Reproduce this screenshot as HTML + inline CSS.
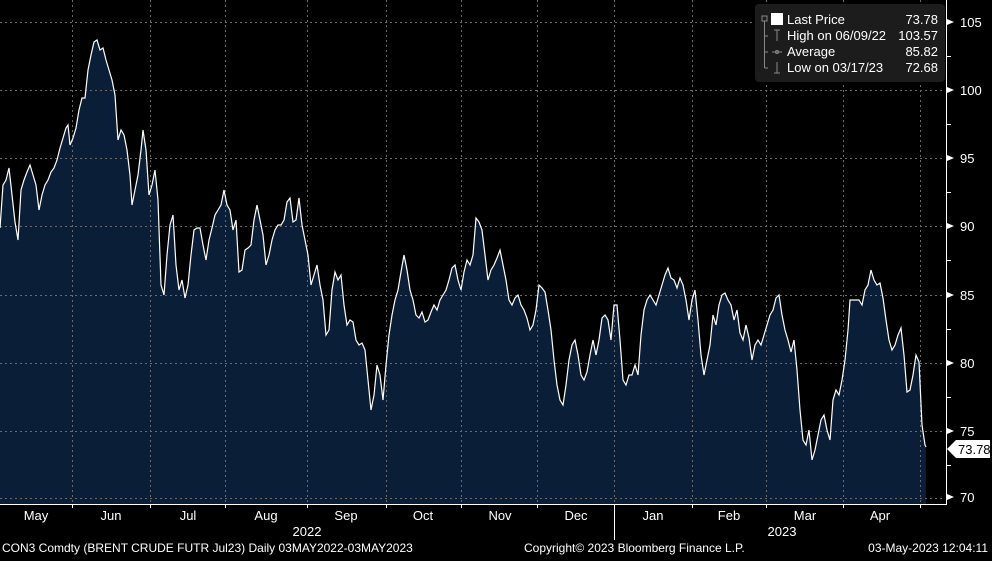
<!DOCTYPE html>
<html><head><meta charset="utf-8"><style>
html,body{margin:0;padding:0;background:#000;}
body{width:992px;height:556px;overflow:hidden;font-family:"Liberation Sans",sans-serif;}
svg text{font-family:"Liberation Sans",sans-serif;fill:#fff;}
</style></head><body>
<svg width="992" height="556" viewBox="0 0 992 556" xmlns="http://www.w3.org/2000/svg">
<rect width="992" height="556" fill="#000"/>
<polygon fill="#0b1e38" points="0,504 0,228 3,185 6,180 9,168 12,195 15,222 18,240 21,190 24,180 27,172 30,165 33,175 36,185 39,210 42,195 45,185 48,180 51,172 54,168 57,160 60,148 63,138 66,128 68,125 70,145 73,138 76,128 79,110 82,98 85,98 88,70 91,55 94,42 97,40 100,50 103,48 106,60 109,70 112,80 115,95 118,140 121,130 124,135 127,150 130,175 132,205 135,190 138,175 141,150 143,130 146,150 149,195 152,185 155,170 158,200 161,285 164,295 167,255 170,225 173,215 176,265 179,290 182,280 185,298 188,285 191,255 194,230 197,228 200,228 203,245 206,260 209,240 212,228 215,215 218,210 221,205 224,190 227,205 230,210 233,230 236,220 239,272 242,270 245,250 248,248 251,245 254,220 257,205 260,220 263,235 266,265 269,255 272,240 275,230 278,225 281,225 284,220 287,202 290,198 293,222 296,220 299,198 302,225 305,240 308,255 311,285 314,275 317,265 320,285 323,300 326,335 329,330 332,290 335,272 338,280 341,275 344,305 347,325 350,320 353,322 356,340 359,345 362,343 365,350 368,380 371,410 374,395 377,365 380,375 383,400 386,365 389,335 392,315 395,300 398,290 401,272 404,255 407,270 410,290 413,300 416,315 419,318 422,312 425,322 428,320 431,312 434,305 437,310 440,300 443,295 446,290 449,280 452,268 455,265 458,280 461,290 464,272 467,260 470,265 473,255 476,218 479,222 482,230 485,255 488,280 491,270 494,265 497,258 500,250 503,265 506,280 509,300 512,305 515,298 518,295 521,305 524,310 527,318 530,330 533,325 536,310 539,285 542,288 545,292 548,310 551,330 554,360 557,385 560,400 563,405 566,385 569,360 572,345 575,340 578,355 581,375 584,380 587,372 590,355 593,340 596,355 599,340 602,318 605,315 608,320 611,340 614,305 617,305 620,340 623,380 626,385 629,375 632,375 635,365 638,375 641,335 644,310 647,300 650,295 653,300 656,305 659,295 662,285 665,275 668,268 671,278 674,280 677,288 680,278 683,285 686,300 689,320 692,300 695,290 698,320 701,355 704,375 707,360 710,345 713,315 716,325 719,305 722,295 725,293 728,300 731,305 734,320 737,310 740,333 743,340 746,325 749,338 752,360 755,345 758,340 761,345 764,335 767,325 770,315 773,310 776,298 779,295 782,315 785,330 788,340 791,352 794,340 797,370 800,410 803,440 806,445 809,430 812,460 815,450 818,435 821,420 824,415 827,430 830,440 833,400 836,390 839,395 842,380 845,360 848,330 850,300 853,300 856,300 859,300 862,305 865,290 868,285 871,270 874,280 877,285 880,283 883,298 886,320 889,340 892,350 895,345 898,335 901,328 904,355 907,392 910,390 913,375 916,355 919,362 922,425 925,445 926,447 926,504"/>
<g stroke="#6a6a6a" stroke-width="1" stroke-dasharray="2,3">
<line x1="0" y1="22.5" x2="945" y2="22.5"/><line x1="0" y1="90.5" x2="945" y2="90.5"/><line x1="0" y1="158.5" x2="945" y2="158.5"/><line x1="0" y1="226.5" x2="945" y2="226.5"/><line x1="0" y1="295.5" x2="945" y2="295.5"/><line x1="0" y1="363.5" x2="945" y2="363.5"/><line x1="0" y1="431.5" x2="945" y2="431.5"/><line x1="0" y1="498.5" x2="945" y2="498.5"/>
<line x1="72.5" y1="0" x2="72.5" y2="504"/><line x1="150.5" y1="0" x2="150.5" y2="504"/><line x1="225.5" y1="0" x2="225.5" y2="504"/><line x1="307.5" y1="0" x2="307.5" y2="504"/><line x1="386.5" y1="0" x2="386.5" y2="504"/><line x1="461.5" y1="0" x2="461.5" y2="504"/><line x1="537.5" y1="0" x2="537.5" y2="504"/><line x1="614.5" y1="0" x2="614.5" y2="504"/><line x1="692.5" y1="0" x2="692.5" y2="504"/><line x1="766.5" y1="0" x2="766.5" y2="504"/><line x1="843.5" y1="0" x2="843.5" y2="504"/><line x1="920.5" y1="0" x2="920.5" y2="504"/>
</g>
<polyline fill="none" stroke="#fff" stroke-width="1.2" points="0,228 3,185 6,180 9,168 12,195 15,222 18,240 21,190 24,180 27,172 30,165 33,175 36,185 39,210 42,195 45,185 48,180 51,172 54,168 57,160 60,148 63,138 66,128 68,125 70,145 73,138 76,128 79,110 82,98 85,98 88,70 91,55 94,42 97,40 100,50 103,48 106,60 109,70 112,80 115,95 118,140 121,130 124,135 127,150 130,175 132,205 135,190 138,175 141,150 143,130 146,150 149,195 152,185 155,170 158,200 161,285 164,295 167,255 170,225 173,215 176,265 179,290 182,280 185,298 188,285 191,255 194,230 197,228 200,228 203,245 206,260 209,240 212,228 215,215 218,210 221,205 224,190 227,205 230,210 233,230 236,220 239,272 242,270 245,250 248,248 251,245 254,220 257,205 260,220 263,235 266,265 269,255 272,240 275,230 278,225 281,225 284,220 287,202 290,198 293,222 296,220 299,198 302,225 305,240 308,255 311,285 314,275 317,265 320,285 323,300 326,335 329,330 332,290 335,272 338,280 341,275 344,305 347,325 350,320 353,322 356,340 359,345 362,343 365,350 368,380 371,410 374,395 377,365 380,375 383,400 386,365 389,335 392,315 395,300 398,290 401,272 404,255 407,270 410,290 413,300 416,315 419,318 422,312 425,322 428,320 431,312 434,305 437,310 440,300 443,295 446,290 449,280 452,268 455,265 458,280 461,290 464,272 467,260 470,265 473,255 476,218 479,222 482,230 485,255 488,280 491,270 494,265 497,258 500,250 503,265 506,280 509,300 512,305 515,298 518,295 521,305 524,310 527,318 530,330 533,325 536,310 539,285 542,288 545,292 548,310 551,330 554,360 557,385 560,400 563,405 566,385 569,360 572,345 575,340 578,355 581,375 584,380 587,372 590,355 593,340 596,355 599,340 602,318 605,315 608,320 611,340 614,305 617,305 620,340 623,380 626,385 629,375 632,375 635,365 638,375 641,335 644,310 647,300 650,295 653,300 656,305 659,295 662,285 665,275 668,268 671,278 674,280 677,288 680,278 683,285 686,300 689,320 692,300 695,290 698,320 701,355 704,375 707,360 710,345 713,315 716,325 719,305 722,295 725,293 728,300 731,305 734,320 737,310 740,333 743,340 746,325 749,338 752,360 755,345 758,340 761,345 764,335 767,325 770,315 773,310 776,298 779,295 782,315 785,330 788,340 791,352 794,340 797,370 800,410 803,440 806,445 809,430 812,460 815,450 818,435 821,420 824,415 827,430 830,440 833,400 836,390 839,395 842,380 845,360 848,330 850,300 853,300 856,300 859,300 862,305 865,290 868,285 871,270 874,280 877,285 880,283 883,298 886,320 889,340 892,350 895,345 898,335 901,328 904,355 907,392 910,390 913,375 916,355 919,362 922,425 925,445 926,447"/>
<!-- axes -->
<line x1="0" y1="504.5" x2="946" y2="504.5" stroke="#fff"/>
<line x1="946.5" y1="0" x2="946.5" y2="505" stroke="#fff"/>
<g stroke="#fff">
<line x1="72.5" y1="504" x2="72.5" y2="508"/><line x1="150.5" y1="504" x2="150.5" y2="508"/><line x1="225.5" y1="504" x2="225.5" y2="508"/><line x1="307.5" y1="504" x2="307.5" y2="508"/><line x1="386.5" y1="504" x2="386.5" y2="508"/><line x1="461.5" y1="504" x2="461.5" y2="508"/><line x1="537.5" y1="504" x2="537.5" y2="508"/><line x1="614.5" y1="504" x2="614.5" y2="540"/><line x1="692.5" y1="504" x2="692.5" y2="508"/><line x1="766.5" y1="504" x2="766.5" y2="508"/><line x1="843.5" y1="504" x2="843.5" y2="508"/><line x1="920.5" y1="504" x2="920.5" y2="508"/>
<line x1="946" y1="56.5" x2="951" y2="56.5"/><line x1="946" y1="124.5" x2="951" y2="124.5"/><line x1="946" y1="192.5" x2="951" y2="192.5"/><line x1="946" y1="260.5" x2="951" y2="260.5"/><line x1="946" y1="329.5" x2="951" y2="329.5"/><line x1="946" y1="397.5" x2="951" y2="397.5"/><line x1="946" y1="465.5" x2="951" y2="465.5"/>
</g>
<g fill="#fff">
<polygon points="947,19 954,22 947,25"/><polygon points="947,87 954,90 947,93"/><polygon points="947,155 954,158 947,161"/><polygon points="947,223 954,226 947,229"/><polygon points="947,292 954,295 947,298"/><polygon points="947,360 954,363 947,366"/><polygon points="947,428 954,431 947,434"/><polygon points="947,494 954,497 947,500"/>
</g>
<g font-size="13">
<text x="960" y="27">105</text><text x="960" y="95">100</text><text x="960" y="163">95</text><text x="960" y="231">90</text><text x="960" y="300">85</text><text x="960" y="368">80</text><text x="960" y="436">75</text><text x="960" y="502">70</text>
</g>
<polygon points="947,449 956,440 990,440 990,458 956,458" fill="#fff"/>
<text x="958" y="454" font-size="13" style="fill:#000">73.78</text>
<!-- legend -->
<rect x="755" y="4" width="190" height="78" rx="4" fill="#1c1c1c"/>
<g stroke="#888" fill="none">
<rect x="762" y="16" width="5" height="5"/>
<line x1="764.5" y1="21" x2="764.5" y2="68"/>
<line x1="764.5" y1="36" x2="768" y2="36"/><line x1="764.5" y1="52" x2="768" y2="52"/><line x1="764.5" y1="68" x2="768" y2="68"/>
<line x1="777" y1="30" x2="777" y2="41"/><line x1="774" y1="30" x2="780" y2="30"/>
<line x1="772" y1="52" x2="782" y2="52"/><circle cx="777" cy="52" r="1.5"/>
<line x1="777" y1="62" x2="777" y2="73"/><line x1="774" y1="73" x2="780" y2="73"/>
</g>
<rect x="771" y="13" width="12" height="12" fill="#fff"/>
<g font-size="13">
<text x="787" y="24">Last Price</text><text x="938" y="24" text-anchor="end">73.78</text>
<text x="787" y="40">High on 06/09/22</text><text x="938" y="40" text-anchor="end">103.57</text>
<text x="787" y="56">Average</text><text x="938" y="56" text-anchor="end">85.82</text>
<text x="787" y="72">Low on 03/17/23</text><text x="938" y="72" text-anchor="end">72.68</text>
</g>
<!-- x labels -->
<g font-size="13" text-anchor="middle">
<text x="36" y="520">May</text><text x="111" y="520">Jun</text><text x="188" y="520">Jul</text><text x="266" y="520">Aug</text><text x="346" y="520">Sep</text><text x="423" y="520">Oct</text><text x="500" y="520">Nov</text><text x="576" y="520">Dec</text><text x="653" y="520">Jan</text><text x="729" y="520">Feb</text><text x="805" y="520">Mar</text><text x="880" y="520">Apr</text>
<text x="307" y="536">2022</text><text x="782" y="536">2023</text>
</g>
<g font-size="12">
<text x="2" y="552">CON3 Comdty (BRENT CRUDE FUTR  Jul23)  Daily 03MAY2022-03MAY2023</text>
<text x="524" y="552">Copyright© 2023 Bloomberg Finance L.P.</text>
<text x="988" y="552" text-anchor="end">03-May-2023 12:04:11</text>
</g>
</svg>
</body></html>
